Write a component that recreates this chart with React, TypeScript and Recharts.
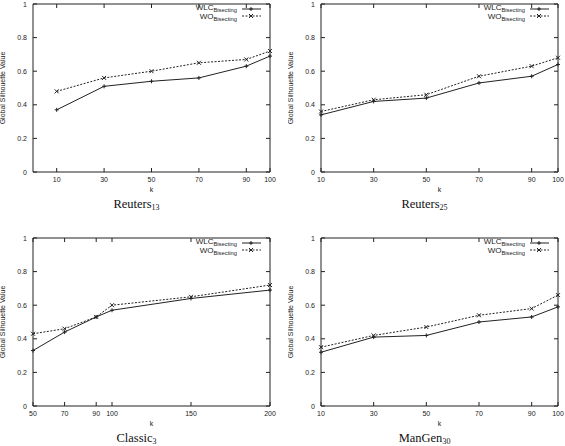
import { LineChart, Line, XAxis, YAxis, ReferenceArea, Legend } from 'recharts'

// shared x positions per panel
const kReuters = [10, 30, 50, 70, 90, 100]
const kClassic = [50, 70, 90, 100, 150, 200]
const yTicks = [0, 0.2, 0.4, 0.6, 0.8, 1]

const reuters13Wlc = [0.37, 0.51, 0.54, 0.56, 0.63, 0.69]
const reuters13Wo = [0.48, 0.56, 0.6, 0.65, 0.67, 0.72]
const reuters25Wlc = [0.34, 0.42, 0.44, 0.53, 0.57, 0.64]
const reuters25Wo = [0.36, 0.43, 0.46, 0.57, 0.63, 0.68]
const classic3Wlc = [0.33, 0.44, 0.53, 0.57, 0.64, 0.69]
const classic3Wo = [0.43, 0.46, 0.53, 0.6, 0.65, 0.72]
const manGen30Wlc = [0.32, 0.41, 0.42, 0.5, 0.53, 0.59]
const manGen30Wo = [0.35, 0.42, 0.47, 0.54, 0.58, 0.66]

// plot box inside every chart
const PL = 33
const PR = 270
const PT = 4
const PB = 172
const INK = '#222'
const SANS = '"Liberation Sans", Arial, sans-serif'
const SERIF = '"Liberation Serif", "Times New Roman", serif'

const XTick = ({ x, payload }: any) => (
  <g>
    <line x1={x} x2={x} y1={PB} y2={PB - 4} stroke={INK} />
    <line x1={x} x2={x} y1={PT} y2={PT + 4} stroke={INK} />
    <text x={x} y={PB + 10} textAnchor="middle" fontSize={7} fontFamily={SANS} fill={INK}>
      {payload.value}
    </text>
  </g>
)

const YTick = ({ y, payload }: any) => (
  <g>
    <line x1={PL} x2={PL + 4} y1={y} y2={y} stroke={INK} />
    <line x1={PR} x2={PR - 4} y1={y} y2={y} stroke={INK} />
    <text x={PL - 6} y={y + 2.5} textAnchor="end" fontSize={7} fontFamily={SANS} fill={INK}>
      {String(payload.value)}
    </text>
  </g>
)

const PlusDot = ({ cx, cy }: any) => (
  <path d={`M${cx - 2},${cy}H${cx + 2}M${cx},${cy - 2}V${cy + 2}`} stroke={INK} strokeWidth={1} />
)

const CrossDot = ({ cx, cy }: any) => (
  <path
    d={`M${cx - 2},${cy - 2}L${cx + 2},${cy + 2}M${cx - 2},${cy + 2}L${cx + 2},${cy - 2}`}
    stroke={INK}
    strokeWidth={1}
  />
)

const LegendBox = () => (
  <svg width={100} height={26} style={{ display: 'block' }}>
    <text x={67} y={10} textAnchor="end" fontFamily={SANS} fill={INK}>
      <tspan fontSize={8}>WLC</tspan>
      <tspan fontSize={5.8} dy={2}>Bisecting</tspan>
    </text>
    <line x1={72} x2={91} y1={9} y2={9} stroke={INK} />
    <PlusDot cx={81} cy={9} />
    <text x={67} y={18.5} textAnchor="end" fontFamily={SANS} fill={INK}>
      <tspan fontSize={8}>WO</tspan>
      <tspan fontSize={5.8} dy={2}>Bisecting</tspan>
    </text>
    <line x1={72} x2={91} y1={16} y2={16} stroke={INK} strokeDasharray="2 1.5" />
    <CrossDot cx={81} cy={16} />
  </svg>
)

interface PanelProps {
  name: string
  sub: string
  ks: number[]
  domain: [number, number]
  wlc: number[]
  wo: number[]
  left: number
  top: number
  width: number
}

function Panel({ name, sub, ks, domain, wlc, wo, left, top, width }: PanelProps) {
  const data = ks.map((k, i) => ({ k, wlc: wlc[i], wo: wo[i] }))
  const mid = (PL + PR) / 2

  return (
    <div style={{ position: 'absolute', left, top }}>
      <LineChart width={width} height={212} data={data} margin={{ top: PT, right: width - PR, left: 0, bottom: 0 }}>
        <XAxis
          dataKey="k"
          type="number"
          domain={domain}
          ticks={ks}
          interval={0}
          height={40}
          axisLine={false}
          tickLine={false}
          tick={XTick}
          label={() => (
            <g>
              <text x={mid} y={PB + 20} textAnchor="middle" fontSize={7} fontFamily={SANS} fill={INK}>
                k
              </text>
              <text x={mid - 15} y={PB + 36} textAnchor="middle" fontFamily={SERIF} fill="#111">
                <tspan fontSize={12.5}>{name}</tspan>
                <tspan fontSize={8} dy={2}>{sub}</tspan>
              </text>
            </g>
          )}
        />
        <YAxis
          type="number"
          domain={[0, 1]}
          ticks={yTicks}
          interval={0}
          width={PL}
          axisLine={false}
          tickLine={false}
          tick={YTick}
          label={() => (
            <text
              x={PL - 28}
              y={(PT + PB) / 2}
              transform={`rotate(-90 ${PL - 28} ${(PT + PB) / 2})`}
              textAnchor="middle"
              fontSize={7}
              fontFamily={SANS}
              fill={INK}
            >
              Global Silhouette Value
            </text>
          )}
        />
        <ReferenceArea x1={domain[0]} x2={domain[1]} y1={0} y2={1} fill="none" stroke={INK} strokeWidth={1} />
        <Legend
          layout="horizontal"
          verticalAlign="middle"
          align="center"
          content={() => <LegendBox />}
          wrapperStyle={{ position: 'absolute', left: PR - 100, top: 0, width: 100, height: 26 }}
        />
        <Line dataKey="wlc" stroke={INK} strokeWidth={1} dot={PlusDot} activeDot={false} isAnimationActive={false} />
        <Line
          dataKey="wo"
          stroke={INK}
          strokeWidth={1}
          strokeDasharray="2 1.5"
          dot={CrossDot}
          activeDot={false}
          isAnimationActive={false}
        />
      </LineChart>
    </div>
  )
}

export default function App() {
  return (
    <div style={{ position: 'absolute', left: 0, top: 0, width: 565, height: 446, background: '#fff' }}>
      <Panel name="Reuters" sub="13" ks={kReuters} domain={[0, 100]} wlc={reuters13Wlc} wo={reuters13Wo} left={0} top={0} width={280} />
      <Panel name="Reuters" sub="25" ks={kReuters} domain={[10, 100]} wlc={reuters25Wlc} wo={reuters25Wo} left={288} top={0} width={277} />
      <Panel name="Classic" sub="3" ks={kClassic} domain={[50, 200]} wlc={classic3Wlc} wo={classic3Wo} left={0} top={234} width={280} />
      <Panel name="ManGen" sub="30" ks={kReuters} domain={[10, 100]} wlc={manGen30Wlc} wo={manGen30Wo} left={288} top={234} width={277} />
    </div>
  )
}
